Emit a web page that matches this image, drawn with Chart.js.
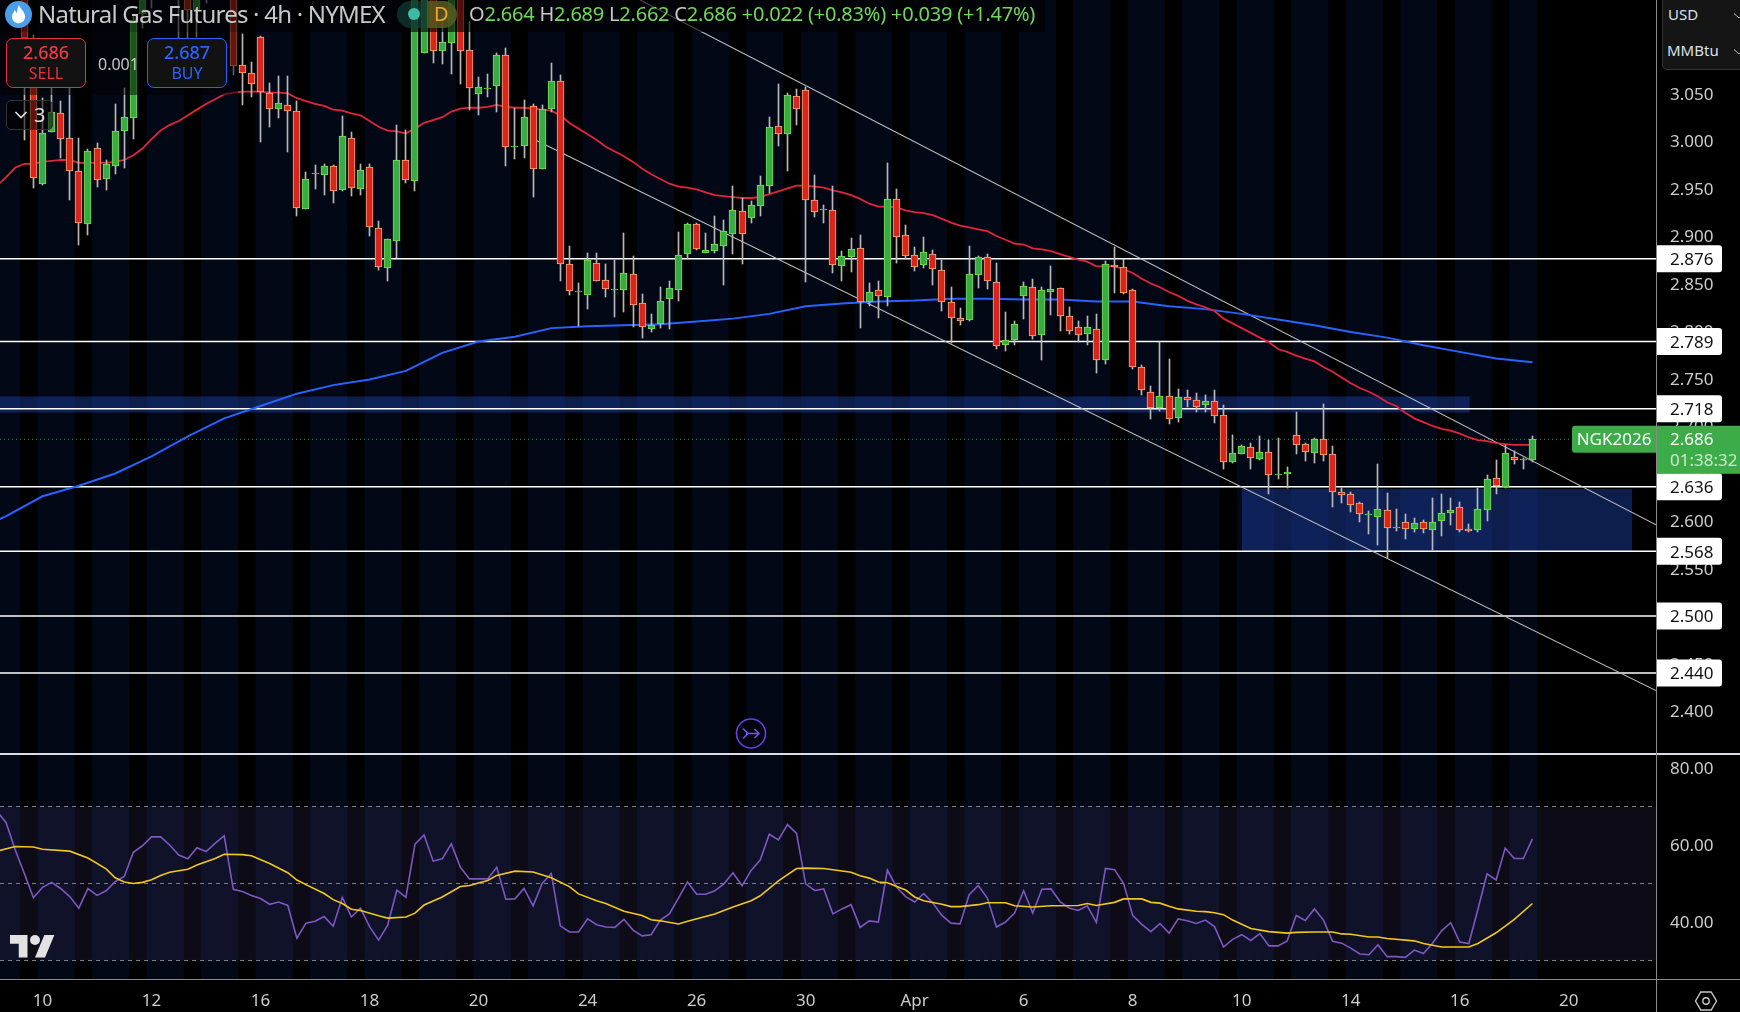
<!DOCTYPE html>
<html>
<head>
<meta charset="utf-8">
<title>Natural Gas Futures</title>
<script src="https://cdn.jsdelivr.net/npm/chart.js@4/dist/chart.umd.min.js"></script>
<style>
  html, body { margin: 0; padding: 0; background: #000; width: 1740px; height: 1012px; overflow: hidden; }
  body { font-family: "Noto Sans", sans-serif; position: relative; }
  canvas { position: absolute; left: 0; display: block; }
  .abs { position: absolute; white-space: nowrap; }
  .rule { position: absolute; }
  .ticket { position: absolute; top: 38px; width: 78px; height: 48px; border-radius: 7px; background: #121212; border: 1.5px solid; text-align: center; }
  .ticket b { display: block; font-weight: 500; font-size: 18px; line-height: 20px; margin-top: 3px; }
  .ticket span { display: block; font-size: 16px; line-height: 20px; margin-top: 1px; }
  .g { color: #70d85a; }
  .w { color: #c8c8c8; }
</style>
</head>
<body>
<canvas id="priceCanvas" width="1740" height="754" style="top:0"></canvas>
<canvas id="rsiCanvas" width="1740" height="257" style="top:755px"></canvas>

<!-- pane and axis rules -->
<div class="rule" style="left:0;top:753px;width:1740px;height:2px;background:#dcdce8"></div>
<div class="rule" style="left:0;top:979px;width:1740px;height:1px;background:#8a8a8a"></div>
<div class="rule" style="left:1656px;top:0;width:1px;height:1012px;background:#8a8a8a"></div>

<!-- legend row and order row dim whatever runs beneath them -->
<div class="rule" style="left:0;top:0;width:1045px;height:32px;background:rgba(0,0,0,.62)"></div>
<div class="rule" style="left:0;top:32px;width:238px;height:63px;background:rgba(0,0,0,.5)"></div>

<svg class="abs" style="left:5px;top:1px" width="27" height="27" viewBox="-13.5 -13.5 27 27">
  <circle r="13.5" fill="#4a9fe8"/>
  <path fill="#fff" d="M0.5 -9.5C2 -5 6.5 -3 6.5 2C6.5 6.5 3.2 8.8 0 8.8C-3.2 8.8 -6.5 6.5 -6.5 2C-6.5 -1 -4.5 -2 -4 -4.5C-2.8 -3.5 -2.2 -2.3 -1.8 -1C-1.2 -4 -1.2 -6.5 0.5 -9.5Z"/>
</svg>
<div class="abs w" style="left:38px;top:-2px;font-size:24px;line-height:32px;letter-spacing:-0.78px">Natural Gas Futures · 4h · NYMEX</div>

<div class="rule" style="left:397px;top:1px;width:60px;height:27px;border-radius:14px;background:rgba(20,70,62,.62)"></div>
<div class="rule" style="left:427px;top:1px;width:30px;height:27px;border-radius:0 14px 14px 0;background:rgba(120,100,20,.6)"></div>
<div class="rule" style="left:408px;top:8px;width:12px;height:12px;border-radius:6px;background:#3dbba5"></div>
<div class="abs" style="left:434px;top:-1px;font-size:20px;line-height:30px;color:#f5a623">D</div>

<div class="abs" style="left:469px;top:-2px;font-size:20px;line-height:32px;letter-spacing:-0.22px"><span class="w">O</span><span class="g">2.664</span> <span class="w">H</span><span class="g">2.689</span> <span class="w">L</span><span class="g">2.662</span> <span class="w">C</span><span class="g">2.686</span> <span class="g">+0.022 (+0.83%)</span> <span class="g">+0.039 (+1.47%)</span></div>

<div class="ticket" style="left:6px;border-color:#e5303f"><b style="color:#f23645">2.686</b><span style="color:#e5303f">SELL</span></div>
<div class="abs" style="left:98px;top:52px;font-size:16px;line-height:24px;color:#c8c8c8">0.001</div>
<div class="ticket" style="left:147px;border-color:#2962ff"><b style="color:#2962ff">2.687</b><span style="color:#2962ff">BUY</span></div>

<div class="rule" style="left:6px;top:100px;width:45px;height:28px;border:1px solid #333;border-radius:5px;background:rgba(0,0,0,.55)"></div>
<svg class="abs" style="left:14px;top:110px" width="14" height="10"><path d="M1.5 2 L7 7.5 L12.5 2" stroke="#e6e6e6" stroke-width="1.6" fill="none"/></svg>
<div class="abs" style="left:34px;top:100px;font-size:20px;line-height:30px;color:#dcdcdc">3</div>

<div class="rule" style="left:1662px;top:-1px;width:78px;height:69px;background:#151515;border:1px solid #333;border-radius:0 0 0 5px"></div>
<div class="abs" style="left:1668px;top:2px;font-size:15px;line-height:24px;color:#d8e0ea">USD</div>
<div class="abs" style="left:1667px;top:38px;font-size:15px;line-height:24px;color:#d8e0ea">MMBtu</div>
<svg class="abs" style="left:1733px;top:12px" width="7" height="8"><path d="M1 1.5 L6 6 L11 1.5" stroke="#bbb" fill="none"/></svg>
<svg class="abs" style="left:1733px;top:48px" width="7" height="8"><path d="M1 1.5 L6 6 L11 1.5" stroke="#bbb" fill="none"/></svg>

<svg class="abs" style="left:735px;top:717px" width="32" height="33" viewBox="-16 -16.5 32 33">
  <circle r="14.5" fill="#03060f" stroke="#6a3fe0" stroke-width="1.6"/>
  <path d="M-8 -5 L-3 0 L-8 5 M-5 0 H8 M3.5 -4.5 L8 0 L3.5 4.5" stroke="#7a52ee" stroke-width="1.5" fill="none"/>
</svg>

<svg class="abs" style="left:10px;top:930px" width="45" height="35" viewBox="0 0 36 28" fill="#e2e2e2">
  <path d="M14 22H7V11H0V4h14v18zM28 22h-8l7.5-18h8L28 22z"/><circle cx="20" cy="8" r="4"/>
</svg>

<svg class="abs" style="left:1693px;top:988px" width="26" height="26" viewBox="-13 -13 26 26">
  <polygon points="-10.5,0 -5.2,-9 5.2,-9 10.5,0 5.2,9 -5.2,9" fill="none" stroke="#c8c8c8" stroke-width="1.4"/>
  <circle r="3.2" fill="none" stroke="#c8c8c8" stroke-width="1.4"/>
</svg>

<script>
// ---- price bars, 4h, newest last; the first entry sits at bar number firstBar ----
const firstBar = 2;
const barOpen = [
  3.175,3.108,2.955,3.009,3.029,3.003,2.968,2.913,2.993,2.960,
  2.974,3.011,3.024,3.134,3.190,3.161,3.190,3.153,3.180,3.138,
  3.169,3.160,3.190,3.164,3.080,3.072,3.109,3.051,3.034,3.038,
  3.032,2.928,2.965,2.964,2.974,2.948,3.003,2.949,2.973,2.908,
  2.866,2.895,2.980,2.958,3.093,3.154,3.095,3.103,3.155,3.096,
  3.049,3.055,3.058,3.090,2.994,2.995,3.037,2.971,3.034,3.063,
  2.871,2.842,2.838,2.872,2.854,2.843,2.843,2.860,2.829,2.802,
  2.807,2.834,2.843,2.881,2.913,2.882,2.884,2.889,2.902,2.926,
  2.919,2.932,2.953,3.016,3.007,3.047,3.054,2.938,2.927,2.927,
  2.868,2.878,2.887,2.831,2.843,2.836,2.939,2.901,2.880,2.869,
  2.881,2.864,2.830,2.814,2.812,2.859,2.878,2.852,2.785,2.791,
  2.837,2.846,2.796,2.841,2.845,2.816,2.804,2.797,2.802,2.769,
  2.869,2.867,2.843,2.762,2.736,2.719,2.732,2.708,2.730,2.727,
  2.722,2.726,2.712,2.662,2.670,2.678,2.665,2.673,2.648,2.649,
  2.690,2.681,2.672,2.686,2.670,2.630,2.628,2.619,2.606,2.604,
  2.612,2.593,2.599,2.592,2.599,2.591,2.600,2.608,2.615,2.592,
  2.590,2.612,2.645,2.636,2.667,2.664,2.664];
const barHigh = [
  3.180,3.112,3.045,3.056,3.042,3.056,3.003,2.992,2.998,2.980,
  3.039,3.056,3.133,3.185,3.200,3.200,3.205,3.190,3.190,3.175,
  3.180,3.200,3.210,3.175,3.113,3.083,3.110,3.061,3.068,3.068,
  3.042,2.967,2.975,2.976,2.975,3.026,3.009,2.976,2.976,2.916,
  2.897,3.017,3.012,3.160,3.160,3.165,3.133,3.165,3.165,3.126,
  3.067,3.071,3.093,3.098,3.035,3.043,3.039,3.038,3.082,3.069,
  2.889,2.850,2.882,2.882,2.871,2.875,2.903,2.879,2.839,2.818,
  2.846,2.853,2.904,2.914,2.914,2.903,2.921,2.917,2.953,2.940,
  2.937,2.963,3.025,3.060,3.050,3.055,3.057,2.964,2.933,2.953,
  2.884,2.898,2.901,2.850,2.853,2.977,2.949,2.912,2.888,2.899,
  2.885,2.875,2.846,2.824,2.889,2.879,2.881,2.872,2.820,2.811,
  2.852,2.855,2.846,2.868,2.845,2.825,2.811,2.816,2.818,2.874,
  2.888,2.876,2.844,2.764,2.742,2.788,2.770,2.739,2.738,2.735,
  2.733,2.738,2.722,2.691,2.680,2.682,2.689,2.685,2.687,2.657,
  2.715,2.682,2.687,2.723,2.679,2.635,2.631,2.620,2.611,2.660,
  2.629,2.613,2.607,2.603,2.601,2.624,2.628,2.624,2.620,2.597,
  2.635,2.648,2.664,2.680,2.674,2.666,2.689];
const barLow = [
  3.001,2.951,2.954,3.009,2.982,2.938,2.890,2.901,2.952,2.948,
  2.965,2.972,3.002,3.119,3.140,3.150,3.152,3.108,3.108,3.109,
  3.145,3.150,3.155,3.069,3.038,3.046,2.999,3.015,3.024,2.988,
  2.921,2.928,2.949,2.943,2.935,2.947,2.942,2.943,2.900,2.864,
  2.853,2.877,2.956,2.947,3.093,3.082,3.081,3.070,3.060,3.033,
  3.027,3.046,3.030,2.974,2.981,2.982,2.941,2.971,3.031,2.853,
  2.838,2.805,2.823,2.853,2.836,2.815,2.820,2.804,2.793,2.799,
  2.803,2.802,2.832,2.876,2.885,2.882,2.882,2.848,2.881,2.870,
  2.914,2.921,2.945,2.995,2.968,3.017,2.852,2.920,2.914,2.861,
  2.853,2.862,2.803,2.826,2.814,2.826,2.872,2.876,2.863,2.866,
  2.848,2.821,2.787,2.806,2.811,2.845,2.844,2.781,2.779,2.785,
  2.813,2.792,2.769,2.817,2.800,2.797,2.788,2.785,2.756,2.765,
  2.840,2.839,2.760,2.733,2.707,2.716,2.702,2.704,2.720,2.715,
  2.715,2.703,2.655,2.661,2.670,2.655,2.664,2.628,2.644,2.635,
  2.670,2.663,2.661,2.663,2.615,2.619,2.609,2.599,2.586,2.575,
  2.561,2.589,2.581,2.588,2.587,2.569,2.584,2.596,2.588,2.588,
  2.588,2.600,2.628,2.635,2.660,2.655,2.662];
const barClose = [
  3.108,2.961,3.008,3.030,3.002,2.968,2.914,2.989,2.959,2.976,
  3.010,3.025,3.127,3.180,3.161,3.190,3.160,3.180,3.138,3.169,
  3.160,3.190,3.170,3.079,3.072,3.060,3.052,3.034,3.040,3.032,
  2.929,2.960,2.966,2.974,2.947,3.005,2.950,2.969,2.909,2.867,
  2.897,2.980,2.959,3.154,3.151,3.095,3.104,3.153,3.095,3.056,
  3.057,3.056,3.091,2.994,2.995,3.025,2.970,3.034,3.063,2.870,
  2.842,2.841,2.875,2.853,2.844,2.844,2.861,2.827,2.804,2.806,
  2.832,2.845,2.880,2.913,2.886,2.885,2.892,2.905,2.927,2.902,
  2.933,2.954,3.015,3.007,3.048,3.034,2.938,2.925,2.928,2.869,
  2.879,2.886,2.830,2.841,2.837,2.939,2.899,2.879,2.867,2.883,
  2.865,2.831,2.814,2.811,2.860,2.878,2.853,2.784,2.791,2.807,
  2.847,2.795,2.843,2.844,2.816,2.800,2.796,2.804,2.769,2.870,
  2.867,2.840,2.762,2.738,2.719,2.732,2.707,2.730,2.727,2.720,
  2.726,2.711,2.662,2.672,2.679,2.666,2.673,2.648,2.649,2.652,
  2.680,2.673,2.686,2.669,2.630,2.627,2.617,2.607,2.607,2.613,
  2.593,2.594,2.592,2.598,2.592,2.599,2.608,2.612,2.591,2.589,
  2.613,2.644,2.637,2.672,2.664,2.665,2.686];

// ---- faster moving average, one value per bar from bar -1 ----
const fastAverage = [
  2.953,2.962,2.972,2.976,2.976,2.978,2.979,2.980,2.980,2.977,2.977,
  2.977,2.977,2.978,2.980,2.985,2.992,3.002,3.011,3.017,3.021,
  3.027,3.033,3.039,3.044,3.049,3.051,3.052,3.052,3.052,3.051,
  3.051,3.050,3.045,3.042,3.039,3.037,3.033,3.032,3.029,3.027,
  3.021,3.015,3.011,3.010,3.008,3.013,3.019,3.022,3.025,3.031,
  3.034,3.035,3.035,3.036,3.038,3.036,3.035,3.035,3.034,3.033,
  3.032,3.027,3.019,3.013,3.007,3.001,2.994,2.989,2.984,2.978,
  2.971,2.965,2.960,2.955,2.952,2.951,2.949,2.946,2.943,2.942,
  2.941,2.940,2.940,2.941,2.944,2.947,2.950,2.953,2.953,2.952,
  2.951,2.948,2.946,2.943,2.939,2.934,2.931,2.931,2.930,2.927,
  2.925,2.924,2.922,2.918,2.914,2.911,2.909,2.907,2.905,2.900,
  2.896,2.892,2.891,2.887,2.886,2.884,2.881,2.878,2.875,2.873,
  2.868,2.868,2.868,2.865,2.861,2.855,2.850,2.846,2.841,2.837,
  2.832,2.828,2.825,2.821,2.813,2.808,2.803,2.798,2.793,2.788,
  2.781,2.778,2.774,2.771,2.768,2.762,2.757,2.751,2.745,2.740,
  2.736,2.731,2.725,2.721,2.714,2.708,2.704,2.700,2.697,2.695,
  2.692,2.688,2.685,2.684,2.682,2.681,2.680,2.680,2.680];

// ---- slower moving average, read at every fourth bar ----
const slowAverageBars = [-1,0,4,8,12,16,20,24,28,32,36,40,44,48,52,56,60,64,68,72,76,80,84,88,92,96,100,104,108,112,116,120,124,128,132,136,140,144,148,152,156,160,164,168];
const slowAverage = [2.601,2.605,2.626,2.637,2.650,2.668,2.689,2.708,2.721,2.734,2.743,2.749,2.758,2.777,2.789,2.794,2.803,2.805,2.806,2.807,2.810,2.813,2.818,2.826,2.829,2.831,2.832,2.834,2.834,2.833,2.833,2.831,2.831,2.826,2.823,2.818,2.812,2.806,2.799,2.793,2.785,2.778,2.771,2.767];

// ---- drawn levels, channel and zones ----
const levelPrices = [2.876, 2.789, 2.718, 2.636, 2.568, 2.500, 2.440];
const lastClose = 2.686;
const channelUpperBars = [69.77, 181.71];
const channelUpper = [3.1484, 2.5955];
const channelLowerBars = [58.43, 181.71];
const channelLower = [3.0003, 2.421];
const upperZoneBars = [-1, 161.1];
const upperZone = [2.7309, 2.7143];
const lowerZoneBars = [136.0, 179.0];
const lowerZone = [2.6337, 2.568];

// ---- oscillator, one value per bar from bar -1 ----
const rsiValues = [
  68.7,65.8,58.7,52.6,46.3,49.0,50.3,48.7,46.6,43.6,48.7,
  46.9,48.1,50.5,51.8,58.1,59.8,62.1,62.1,60.0,57.4,
  56.4,59.3,58.3,60.4,62.4,48.5,47.9,46.9,46.1,44.6,
  45.2,44.3,35.8,39.7,40.2,41.4,38.9,46.4,41.3,43.6,
  38.8,35.3,39.2,48.3,46.4,60.2,62.6,55.8,56.4,60.3,
  54.2,51.2,51.2,51.2,54.2,45.9,46.0,48.7,44.2,50.0,
  52.6,39.0,37.4,37.4,40.8,39.3,38.7,38.6,40.7,37.9,
  36.4,36.7,40.5,42.1,46.2,50.4,47.2,47.2,48.1,49.9,
  52.8,49.4,53.4,56.1,62.8,61.3,65.3,63.0,49.9,48.2,
  48.6,42.1,43.4,44.5,38.6,40.3,40.0,53.5,49.1,46.6,
  45.2,47.4,44.9,41.7,39.7,39.5,47.1,49.5,46.2,38.7,
  40.0,42.3,48.1,42.3,48.5,48.6,45.3,43.6,43.0,44.2,
  39.9,53.9,53.6,50.0,41.7,39.4,37.5,39.6,37.1,40.8,
  40.3,39.6,40.5,38.8,33.5,35.5,36.7,35.2,37.0,33.8,
  33.8,35.1,41.7,40.4,43.4,40.5,35.0,34.5,33.2,31.7,
  31.5,34.1,31.0,31.0,30.8,32.7,31.8,34.5,37.7,39.8,
  34.8,34.4,43.3,52.5,50.9,59.2,56.5,56.5,61.6];

// ---- oscillator average, read where the curve bends ----
const rsiAverageBars = [-1,1,3,4,7,9,11,12,13,14,15,16,17,18,20,21,23,24,26,27,29,31,32,33,35,36,37,38,39,41,42,44,45,46,48,50,51,53,54,56,58,60,62,63,65,66,68,70,71,72,74,75,78,80,82,83,85,87,88,90,93,94,95,96,97,99,100,101,103,104,105,107,108,110,111,113,115,118,119,120,122,123,125,126,127,128,129,131,132,133,134,135,137,139,141,142,144,146,147,148,150,151,152,155,156,158,161,162,164,166,168];
const rsiAverage = [58.4,59.6,59.5,58.9,58.4,56.6,53.8,51.5,50.4,50.0,50.3,51.0,52.1,52.9,53.7,54.8,56.5,57.6,57.5,57.2,55.2,52.8,50.9,49.7,47.4,45.8,44.8,43.3,43.0,41.6,41.0,41.3,42.3,44.4,46.5,49.2,49.5,50.8,52.1,53.2,53.0,51.5,49.2,47.3,45.5,44.8,42.8,41.7,40.6,40.3,39.5,40.2,42.1,43.9,45.5,46.8,50.7,53.9,54.0,53.9,52.9,52.0,51.4,50.4,50.2,48.3,46.5,45.5,44.6,44.0,44.0,44.5,45.0,45.0,44.2,43.9,44.2,44.3,44.8,44.3,45.1,46.0,46.0,45.1,44.9,44.1,43.4,42.8,42.7,42.4,41.9,40.5,38.3,37.5,37.1,37.3,37.4,37.4,36.9,36.8,36.1,36.1,35.7,35.1,34.4,33.5,33.5,34.4,37.2,40.7,44.8];
const rsiGuides = [70, 50, 30];

// ---- axis labels ----
const priceTicks = [2.40,2.45,2.50,2.55,2.60,2.65,2.70,2.75,2.80,2.85,2.90,2.95,3.00,3.05];
const rsiTicks = [40, 60, 80];
const dateBars = [4,16,28,40,52,64,76,88,100,112,124,136,148,160,172];
const dateLabels = ['10','12','16','18','20','24','26','30','Apr','6','8','10','14','16','20'];

// ---- shared view of the time axis ----
const xMin = -0.678, xMax = 181.71;
const lastBar = firstBar + barClose.length - 1;
const FONT = '"Noto Sans", sans-serif';
const TICK = '#cccccc';

// Session shading: two closed-hours bars out of every six stay black.
function sessionBands(lo, hi) {
  const out = [];
  for (let i = -1; i <= lastBar; i++) {
    const phase = ((i % 6) + 6) % 6;
    if (phase !== 2 && phase !== 3) out.push({ x: i, y: [lo, hi] });
  }
  return out;
}
const bandDataset = (lo, hi) => ({
  type: 'bar', label: 'session', data: sessionBands(lo, hi), backgroundColor: '#030816',
  barThickness: 9.3, grouped: false, borderWidth: 0, order: 100
});
const hLine = (label, bars, y, color, width, dash, order) => ({
  type: 'line', label, data: bars.map((x, k) => ({ x, y: Array.isArray(y) ? y[k] : y })),
  borderColor: color, borderWidth: width, borderDash: dash || [], pointRadius: 0, fill: false, tension: 0, order
});
const zone = (label, bars, band) => ({
  type: 'line', label, data: bars.map(x => ({ x, y: band[0] })),
  borderWidth: 0, pointRadius: 0, fill: { value: band[1] }, backgroundColor: 'rgba(32,76,190,.4)', order: 90
});
// The plot area has to fill each pane exactly, so tick labels get no reserved margin.
const noMargins = s => { s.paddingTop = 0; s.paddingBottom = 0; s.paddingLeft = 0; s.paddingRight = 0; };

// Snap bar rectangles to whole pixels so bodies and wicks stay crisp.
const snapBars = {
  id: 'snapBars',
  beforeDatasetsDraw(chart) {
    chart.data.datasets.forEach((ds, idx) => {
      if (ds.label !== 'wick' && ds.label !== 'body') return;
      chart.getDatasetMeta(idx).data.forEach(el => {
        el.x = Math.round(el.x - 0.5) + 0.5;
        const a = Math.round(el.y);
        let b = Math.round(el.base);
        if (a === b) b = a + 1;
        el.y = a; el.base = b;
      });
    });
  }
};

// Level tags and last-price tag on the price axis.
const axisTags = {
  id: 'axisTags',
  afterDraw(chart) {
    const { ctx } = chart, y = chart.scales.y;
    ctx.save();
    ctx.textBaseline = 'middle';
    ctx.font = '17px ' + FONT;
    levelPrices.forEach(p => {
      const py = y.getPixelForValue(p);
      ctx.fillStyle = '#fff';
      ctx.beginPath();
      ctx.roundRect(1657, py - 13.5, 65, 27, [0, 3, 3, 0]);
      ctx.fill();
      ctx.fillStyle = '#111';
      ctx.textAlign = 'left';
      ctx.fillText(p.toFixed(3), 1670, py + 1.5);
    });
    const py = y.getPixelForValue(lastClose);
    ctx.fillStyle = '#3cac48';
    ctx.beginPath();
    ctx.roundRect(1572, py - 13.5, 85, 27, [3, 0, 0, 3]);
    ctx.fill();
    ctx.fillRect(1657, py - 13.5, 83, 48);
    ctx.fillStyle = '#fff';
    ctx.textAlign = 'center';
    ctx.fillText('NGK2026', 1614, py + 1);
    ctx.textAlign = 'left';
    ctx.fillText(lastClose.toFixed(3), 1670, py + 1);
    ctx.fillStyle = '#cfe8cf';
    ctx.fillText('01:38:32', 1670, py + 22);
    ctx.restore();
  }
};

const wickData = barHigh.map((h, k) => ({ x: firstBar + k, y: [barLow[k], h] }));
const bodyData = barOpen.map((o, k) => ({ x: firstBar + k, y: [o, barClose[k]] }));
const isUp = barOpen.map((o, k) => barClose[k] >= o);

Chart.defaults.animation = false;
Chart.defaults.font.family = FONT;

new Chart(document.getElementById('priceCanvas'), {
  type: 'bar',
  plugins: [snapBars, axisTags],
  data: {
    datasets: [
      bandDataset(2.3547, 3.1484),
      zone('upper zone', upperZoneBars, upperZone),
      zone('lower zone', lowerZoneBars, lowerZone),
      ...levelPrices.map(p => hLine('level', [xMin, xMax], p, '#ffffff', 1.5, null, 80)),
      hLine('last close', [xMin, xMax], lastClose, '#3f8f4a', 1, [1, 3], 79),
      hLine('channel upper', channelUpperBars, channelUpper, '#bdbdbd', 1.1, null, 70),
      hLine('channel lower', channelLowerBars, channelLower, '#bdbdbd', 1.1, null, 70),
      hLine('slow average', slowAverageBars, slowAverage, '#2962ff', 2, null, 60),
      { type: 'line', label: 'fast average', data: fastAverage.map((v, k) => ({ x: k - 1, y: v })),
        borderColor: '#e0253c', borderWidth: 1.8, pointRadius: 0, fill: false, tension: 0, order: 59 },
      { type: 'bar', label: 'wick', data: wickData, backgroundColor: '#b8b8b8', barThickness: 1,
        grouped: false, borderWidth: 0, order: 40 },
      { type: 'bar', label: 'body', data: bodyData,
        backgroundColor: isUp.map(u => u ? '#3aaa45' : '#d9261c'),
        borderColor: isUp.map(u => u ? '#79e04f' : '#f6ab78'),
        borderWidth: 1, borderSkipped: false, barThickness: 7, grouped: false, order: 30 }
    ]
  },
  options: {
    responsive: false, devicePixelRatio: 1, animation: false,
    layout: { padding: 0 },
    plugins: { legend: { display: false }, tooltip: { enabled: false } },
    scales: {
      x: { type: 'linear', min: xMin, max: xMax, offset: false, display: false, grid: { display: false } },
      y: {
        type: 'linear', position: 'right', min: 2.3547, max: 3.1484,
        grid: { display: false, drawTicks: false }, border: { display: false },
        afterFit(s) { s.width = 83; noMargins(s); },
        afterBuildTicks(s) { s.ticks = priceTicks.map(value => ({ value })); },
        ticks: { padding: 13, crossAlign: 'near', color: TICK, font: { size: 17 }, autoSkip: false,
                 labelOffset: 1.5, callback: v => v.toFixed(3) }
      }
    }
  }
});

new Chart(document.getElementById('rsiCanvas'), {
  type: 'bar',
  data: {
    datasets: [
      bandDataset(25.19, 83.38),
      { type: 'line', label: 'rsi band', data: [{ x: xMin, y: 70 }, { x: xMax, y: 70 }],
        borderWidth: 0, pointRadius: 0, fill: { value: 30 }, backgroundColor: 'rgba(130,110,220,.1)', order: 90 },
      ...rsiGuides.map(g => hLine('guide', [xMin, xMax], g, '#7f8088', 1, [4, 4], 80)),
      { type: 'line', label: 'rsi', data: rsiValues.map((v, k) => ({ x: k - 1, y: v })),
        borderColor: '#7e57c2', borderWidth: 1.6, pointRadius: 0, fill: false, tension: 0, order: 60 },
      hLine('rsi average', rsiAverageBars, rsiAverage, '#f2c71c', 1.6, null, 50)
    ]
  },
  options: {
    responsive: false, devicePixelRatio: 1, animation: false,
    layout: { padding: 0 },
    plugins: { legend: { display: false }, tooltip: { enabled: false } },
    scales: {
      x: {
        type: 'linear', min: xMin, max: xMax, offset: false,
        grid: { display: false, drawTicks: false }, border: { display: false },
        afterFit(s) { s.height = 33; noMargins(s); },
        afterBuildTicks(s) { s.ticks = dateBars.map(value => ({ value })); },
        ticks: { padding: 12, color: TICK, font: { size: 17 }, autoSkip: false, maxRotation: 0,
                 callback: v => dateLabels[dateBars.indexOf(v)] }
      },
      y: {
        type: 'linear', position: 'right', min: 25.19, max: 83.38,
        grid: { display: false, drawTicks: false }, border: { display: false },
        afterFit(s) { s.width = 83; noMargins(s); },
        afterBuildTicks(s) { s.ticks = rsiTicks.map(value => ({ value })); },
        ticks: { padding: 13, crossAlign: 'near', color: TICK, font: { size: 17 }, autoSkip: false,
                 labelOffset: 1.5, callback: v => v.toFixed(2) }
      }
    }
  }
});
</script>
</body>
</html>
